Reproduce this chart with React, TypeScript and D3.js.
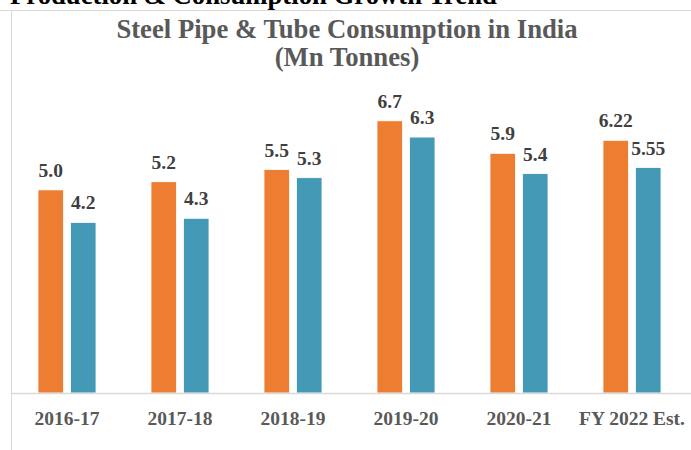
import React from "react";
import * as d3 from "d3";

const categories = ["2016-17", "2017-18", "2018-19", "2019-20", "2020-21", "FY 2022 Est."];
const production = [5.0, 5.2, 5.5, 6.7, 5.9, 6.22];
const consumption = [4.2, 4.3, 5.3, 6.3, 5.4, 5.55];
const productionLabels = ["5.0", "5.2", "5.5", "6.7", "5.9", "6.22"];
const consumptionLabels = ["4.2", "4.3", "5.3", "6.3", "5.4", "5.55"];
const seriesColors = ["#ED7D31", "#4399B6"];

const W = 691;
const H = 450;

export default function App() {
  const x = d3.scaleBand<string>().domain(categories).range([10.5, 688.5]).padding(0);
  const y = d3.scaleLinear().domain([0, 8]).range([393, 68]);
  const barW = 25.5;
  const gap = 7;
  const font = "'Liberation Serif', 'Times New Roman', serif";

  return (
    <svg
      width={W}
      height={H}
      style={{ position: "absolute", left: 0, top: 0, background: "#fff" }}
      fontFamily={font}
    >
      <text x={10} y={3.5} fontSize={26.7} fontWeight="bold" fill="#000">
        Production &amp; Consumption Growth Trend
      </text>
      <line x1={0} x2={W} y1={10.5} y2={10.5} stroke="#d9d9d9" strokeWidth={1} />
      <line x1={11.5} x2={11.5} y1={10.5} y2={H} stroke="#d9d9d9" strokeWidth={1} />
      <text x={347} y={38} fontSize={26.7} fontWeight="bold" fill="#595959" textAnchor="middle">
        Steel Pipe &amp; Tube Consumption in India
      </text>
      <text x={347} y={66} fontSize={26.7} fontWeight="bold" fill="#595959" textAnchor="middle">
        (Mn Tonnes)
      </text>
      {categories.map((c, i) => {
        const cx = (x(c) as number) + x.bandwidth() / 2;
        const ox = cx - gap / 2 - barW;
        const tx = cx + gap / 2;
        return (
          <g key={c}>
            <rect x={ox} y={y(production[i])} width={barW} height={y(0) - y(production[i])} fill={seriesColors[0]} stroke="#fff" strokeWidth={0.8} />
            <rect x={tx} y={y(consumption[i])} width={barW} height={y(0) - y(consumption[i])} fill={seriesColors[1]} stroke="#fff" strokeWidth={0.8} />
            <text x={ox + barW / 2} y={y(production[i]) - 13} fontSize={19.5} fontWeight="bold" fill="#404040" textAnchor="middle">
              {productionLabels[i]}
            </text>
            <text x={tx + barW / 2} y={y(consumption[i]) - 13} fontSize={19.5} fontWeight="bold" fill="#404040" textAnchor="middle">
              {consumptionLabels[i]}
            </text>
            <text x={cx} y={425} fontSize={19.5} fontWeight="bold" fill="#595959" textAnchor="middle">
              {c}
            </text>
          </g>
        );
      })}
      <line x1={11.5} x2={W} y1={y(0) + 0.5} y2={y(0) + 0.5} stroke="#d9d9d9" strokeWidth={1.5} />
    </svg>
  );
}
